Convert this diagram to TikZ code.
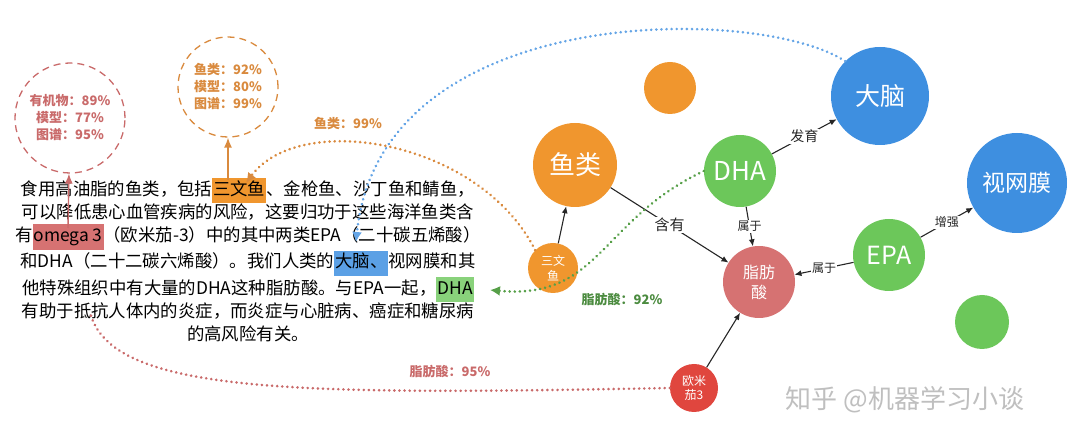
\documentclass[tikz,border=0pt]{standalone}
\usepackage{fontspec}
\setmainfont{Noto Sans CJK SC}
\usetikzlibrary{arrows.meta}
\definecolor{cor}{HTML}{F0962E}
\definecolor{cgr}{HTML}{6CC75A}
\definecolor{cbl}{HTML}{3E8FE0}
\definecolor{cpk}{HTML}{D67272}
\definecolor{crd}{HTML}{E0463E}
\definecolor{cdr}{HTML}{C96A6A}
\definecolor{cdo}{HTML}{D98A3E}
\newcommand{\hlb}[2]{{\setlength{\fboxsep}{1pt}\colorbox{#1}{\strut #2}}}
\begin{document}
\begin{tikzpicture}[x=1pt,y=-1pt,
  ball/.style={circle,fill=#1,text=white,inner sep=0pt,align=center},
  edge/.style={-{Latex[length=7pt,width=6pt]},line width=1.1pt,black!85},
  elab/.style={fill=white,inner sep=1pt,font=\fontsize{12}{13}\selectfont},
  dot/.style={line width=2.8pt,dash pattern=on 0.1pt off 5pt,line cap=round}]
\useasboundingbox (0,0) rectangle (1080,443);
% graph nodes
\node[ball=cor,minimum size=52pt] (o1) at (670,88) {};
\node[ball=cor,minimum size=84pt,font=\fontsize{26}{28}\selectfont] (fish) at (575,165) {鱼类};
\node[ball=cor,minimum size=50pt,font=\fontsize{12}{15}\selectfont] (salmon) at (553,268) {三文\\鱼};
\node[ball=cgr,minimum size=72pt,font=\fontsize{26}{28}\selectfont] (dha) at (740,171) {DHA};
\node[ball=cbl,minimum size=98pt,font=\fontsize{25}{27}\selectfont] (brain) at (880,96) {大脑};
\node[ball=cbl,minimum size=100pt,font=\fontsize{23}{25}\selectfont] (retina) at (1017,183) {视网膜};
\node[ball=cgr,minimum size=72pt,font=\fontsize{25}{27}\selectfont] (epa) at (889,255) {EPA};
\node[ball=cpk,minimum size=72pt,font=\fontsize{16}{20}\selectfont] (fat) at (759,282) {脂肪\\酸};
\node[ball=crd,minimum size=48pt,font=\fontsize{12}{14}\selectfont] (omega) at (694,388) {欧米\\茄3};
\node[ball=cgr,minimum size=54pt] (g2) at (982,322) {};
\node[text=black!25,font=\fontsize{26}{28}\selectfont] (wm) at (905,400) {知乎 @机器学习小谈};
% edges
\draw[edge] (salmon) -- (fish);
\draw[edge] (fish) -- node[elab,pos=0.5,font=\fontsize{15}{16}\selectfont]{含有} (fat);
\draw[edge] (dha) -- node[elab]{属于} (fat);
\draw[edge] (epa) -- node[elab]{属于} (fat);
\draw[edge] (dha) -- node[elab,font=\fontsize{14}{15}\selectfont]{发育} (brain);
\draw[edge] (epa) -- node[elab]{增强} (retina);
\draw[edge] (omega) -- (fat);
% text block
\node[align=center,inner sep=0pt,font=\fontsize{17.4}{23.3}\selectfont] (txt) at (248,260) {食用高油脂的鱼类，包括\hlb{cor}{三文鱼}、金枪鱼、沙丁鱼和鲭鱼，\\可以降低患心血管疾病的风险，这要归功于这些海洋鱼类含\\有\hlb{cpk}{omega 3}（欧米茄-3）中的其中两类EPA（二十碳五烯酸）\\和DHA（二十二碳六烯酸）。我们人类的\hlb{cbl!85}{大脑、}视网膜和其\\他特殊组织中有大量的DHA这种脂肪酸。与EPA一起，\hlb{cgr!80}{DHA}\\有助于抵抗人体内的炎症，而炎症与心脏病、癌症和糖尿病\\的高风险有关。};
\coordinate (hs) at (228,180);
\coordinate (hsr) at (246,183);
\coordinate (ho) at (68,228);
\coordinate (hb) at (356,242);
\coordinate (hd) at (490,290);
% dashed circles
\node[circle,draw=cdr,line width=1.3pt,dash pattern=on 7pt off 5pt,minimum size=110pt,text=cdr,align=center,font=\bfseries\fontsize{13}{17}\selectfont] (c1) at (70,118) {有机物：89\%\\模型：77\%\\图谱：95\%};
\node[circle,draw=cdo,line width=1.3pt,dash pattern=on 7pt off 5pt,minimum size=100pt,text=cdo,align=center,font=\bfseries\fontsize{13}{17}\selectfont] (c2) at (228,87) {鱼类：92\%\\模型：80\%\\图谱：99\%};
\draw[-{Latex[length=10pt,width=8pt]},line width=1.4pt,cdr] (ho) -- (c1);
\draw[-{Latex[length=10pt,width=8pt]},line width=1.4pt,cdo] (hs) -- (c2);
% dotted links
\draw[dot,cdo,-{Latex[length=10pt,width=10pt]}] (salmon.north west) .. controls (480,140) and (300,110) .. (hsr);
\node[text=cdo,font=\bfseries\fontsize{13}{15}\selectfont] (l99) at (348,124) {鱼类：99\%};
\draw[dot,cbl!80,-{Latex[length=10pt,width=10pt]}] (brain.north west) .. controls (760,5) and (380,0) .. (hb);
\draw[dot,cgr!80!black,-{Latex[length=10pt,width=10pt]}] (dha.west) .. controls (600,220) and (600,300) .. (hd);
\node[text=cgr!70!black,font=\bfseries\fontsize{13}{15}\selectfont] (l92) at (622,300) {脂肪酸：92\%};
\draw[dot,cdr] (omega.west) .. controls (300,395) and (110,395) .. (90,312);
\node[text=cdr,font=\bfseries\fontsize{13}{15}\selectfont] (l95) at (450,372) {脂肪酸：95\%};
\end{tikzpicture}
\end{document}
